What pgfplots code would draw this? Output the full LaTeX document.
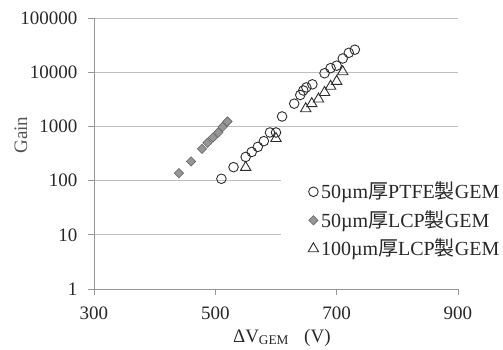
\documentclass[border=0pt]{standalone}
\usepackage{fontspec}
\setmainfont{Liberation Serif}
\newfontfamily\cjk{Noto Sans CJK JP}
\usepackage{pgfplots}
\pgfplotsset{compat=1.18}
\definecolor{axisgray}{RGB}{150,150,150}
\definecolor{gridgray}{RGB}{190,190,190}
\definecolor{txt}{RGB}{40,40,40}
\definecolor{markdark}{RGB}{45,45,45}
\definecolor{diafill}{RGB}{150,150,150}
\definecolor{diaedge}{RGB}{100,100,100}
\begin{document}
\begin{tikzpicture}
\path[use as bounding box] (-94pt,-60pt) rectangle (409pt,289pt);
\begin{axis}[
  scale only axis, width=364pt, height=271pt,
  ymode=log, xmin=300, xmax=900, ymin=1, ymax=100000,
  xtick={300,500,700,900},
  ytick={1,10,100,1000,10000,100000},
  yticklabels={1,10,100,1000,10000,100000},
  yminorticks=false,
  axis x line*=bottom, axis y line*=left,
  axis line style={axisgray, line width=0.8pt},
  tick align=outside, major tick length=6pt,
  tick style={axisgray, line width=0.8pt},
  ymajorgrids, grid style={gridgray, line width=0.8pt},
  tick label style={font=\fontsize{19}{22}\selectfont, text=txt},
  /pgf/number format/assume math mode=true,
  xticklabel style={yshift=-8.5pt},
  yticklabel style={xshift=-7pt},
  xlabel={ΔV\textsubscript{GEM}\hspace{0.8em}(V)},
  xlabel style={at={(axis description cs:0.516,0)}, anchor=base, yshift=-53pt, font=\fontsize{19}{22}\selectfont, text=txt},
  ylabel={Gain},
  ylabel style={at={(axis description cs:-0.2005,0.568)}, anchor=center, font=\fontsize{19}{22}\selectfont, text=txt!80},
  legend style={at={(axis description cs:0.5357,0.425)}, anchor=north west, draw=none, fill=none,
    inner xsep=19pt, inner ysep=10pt, row sep=9pt,
    font=\fontsize{20}{23}\selectfont, text=txt,
    nodes={inner xsep=2.5pt, inner ysep=0pt, text height=14.5pt, text depth=5pt},
    cells={anchor=west}},
  legend image code/.code={\draw[#1] plot coordinates {(0pt,2pt)};},
]
\fill[white] (axis description cs:0.514,0.42) rectangle (axis description cs:1.2,0.06);
\addplot[only marks, mark=o, mark size=4.8pt, mark options={draw=markdark, line width=0.9pt}] coordinates {
(510,108) (530,177) (550,273) (560,338) (570,419) (580,535) (590,773) (600,773)
(610,1525) (630,2630) (640,3800) (645,4600) (650,5240) (660,5970) (680,9560)
(690,11900) (700,13200) (710,17900) (720,22800) (730,26000)};
\addlegendentry{50µm{\cjk 厚}PTFE{\cjk 製}GEM}
\addplot[only marks, mark=square*, mark size=3.3pt, mark options={rotate=45, draw=diaedge, fill=diafill, line width=0.6pt}] coordinates {
(440,137) (460,226) (478,385) (487,498) (496,622) (505,773) (512,978) (520,1230)};
\addlegendentry{50µm{\cjk 厚}LCP{\cjk 製}GEM}
\addplot[only marks, mark=triangle, mark size=6pt, mark options={draw=markdark, line width=0.9pt}] coordinates {
(550,175) (600,597) (649,2120) (659,2630) (670,3200) (680,4230) (690,5500) (700,6770) (710,10200)};
\addlegendentry{100µm{\cjk 厚}LCP{\cjk 製}GEM}
\end{axis}
\end{tikzpicture}
\end{document}
